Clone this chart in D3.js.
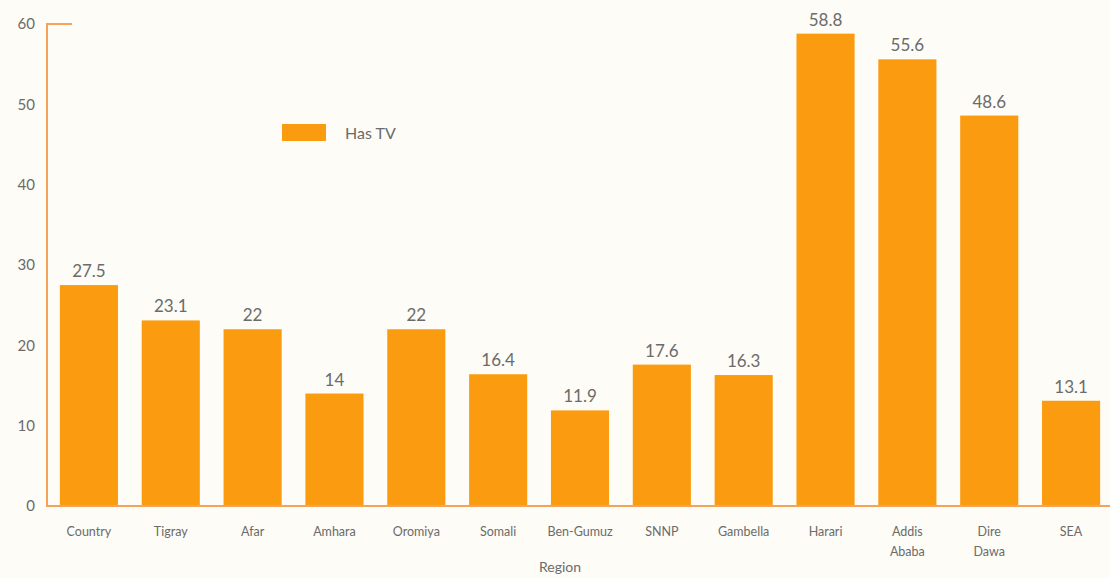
<!DOCTYPE html>
<html>
<head>
<meta charset="utf-8">
<script src="https://cdn.jsdelivr.net/npm/d3@7"></script>
<style>
  body { margin: 0; background: #fdfcf6; }
  svg { display: block; font-family: Lato, "Open Sans", sans-serif; }
</style>
</head>
<body>
<svg width="1110" height="578"></svg>
<script>
// data
var regions = ["Country", "Tigray", "Afar", "Amhara", "Oromiya", "Somali", "Ben-Gumuz",
               "SNNP", "Gambella", "Harari", "Addis Ababa", "Dire Dawa", "SEA"];
var hasTV = [27.5, 23.1, 22, 14, 22, 16.4, 11.9, 17.6, 16.3, 58.8, 55.6, 48.6, 13.1];
var yTicks = [0, 10, 20, 30, 40, 50, 60];

var svg = d3.select("svg"),
    width = +svg.attr("width"),
    height = +svg.attr("height");

var barColor = "#fb9b10",
    axisColor = "#f6a35a",
    textColor = "#6b6b6b";

var x = d3.scaleBand()
    .domain(regions)
    .range([48, 1112])
    .paddingInner(0.29)
    .paddingOuter(0.145);

var y = d3.scaleLinear()
    .domain([0, 60])
    .range([506, 24]);

var data = regions.map(function(r, i) { return {region: r, value: hasTV[i]}; });

// bars
svg.append("g")
    .selectAll("rect")
    .data(data)
    .enter().append("rect")
    .attr("x", function(d) { return x(d.region); })
    .attr("y", function(d) { return y(d.value); })
    .attr("width", x.bandwidth())
    .attr("height", function(d) { return y(0) - y(d.value); })
    .style("fill", barColor);

// value labels
svg.append("g")
    .selectAll("text")
    .data(data)
    .enter().append("text")
    .attr("x", function(d) { return x(d.region) + x.bandwidth() / 2; })
    .attr("y", function(d) { return y(d.value) - 8; })
    .attr("text-anchor", "middle")
    .style("font-size", "17px")
    .style("fill", textColor)
    .text(function(d) { return d.value; });

// axis lines
svg.append("path")
    .attr("d", "M72," + y(60) + "H47V" + y(0) + "H" + width)
    .attr("fill", "none")
    .attr("stroke", axisColor)
    .attr("stroke-width", 2);

// y tick labels
svg.append("g")
    .selectAll("text")
    .data(yTicks)
    .enter().append("text")
    .attr("x", 35)
    .attr("y", function(d) { return y(d); })
    .attr("dy", "0.35em")
    .attr("text-anchor", "end")
    .style("font-size", "15px")
    .style("fill", textColor)
    .text(function(d) { return d; });

// x labels, wrapped on spaces
var xl = svg.append("g")
    .selectAll("text")
    .data(regions)
    .enter().append("text")
    .attr("x", function(d) { return x(d) + x.bandwidth() / 2; })
    .attr("y", 536)
    .attr("text-anchor", "middle")
    .style("font-size", "12.5px")
    .style("fill", textColor);

xl.each(function(d) {
    var words = d.indexOf("-") >= 0 ? [d] : d.split(" ");
    var t = d3.select(this);
    words.forEach(function(w, i) {
        t.append("tspan")
            .attr("x", x(d) + x.bandwidth() / 2)
            .attr("dy", i === 0 ? 0 : 20)
            .text(w);
    });
});

// axis title
svg.append("text")
    .attr("x", 560)
    .attr("y", 572)
    .attr("text-anchor", "middle")
    .style("font-size", "14px")
    .style("fill", textColor)
    .text("Region");

// legend
svg.append("rect")
    .attr("x", 282)
    .attr("y", 124)
    .attr("width", 44)
    .attr("height", 17)
    .style("fill", barColor);

svg.append("text")
    .attr("x", 345)
    .attr("y", 133)
    .attr("dy", "0.35em")
    .style("font-size", "16px")
    .style("fill", textColor)
    .text("Has TV");
</script>
</body>
</html>
